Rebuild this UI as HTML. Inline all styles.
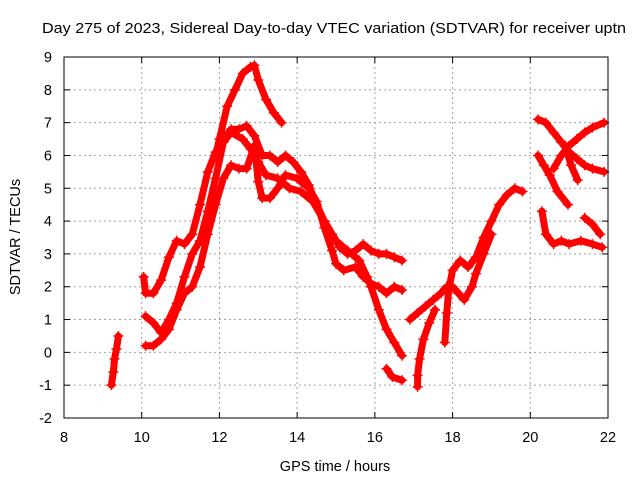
<!DOCTYPE html>
<html><head><meta charset="utf-8"><style>
body{margin:0;background:#fff}
svg{display:block;font-family:"Liberation Sans",sans-serif}
</style></head><body>
<svg id="chart" width="640" height="480" xmlns="http://www.w3.org/2000/svg">
<rect width="640" height="480" fill="#fff"/>
<text x="42" y="33" font-size="14.5" textLength="584" lengthAdjust="spacingAndGlyphs" fill="#000">Day 275 of 2023, Sidereal Day-to-day VTEC variation (SDTVAR) for receiver uptn</text>
<g id="grid"></g>
<g id="ticks"></g>
<g id="marks"></g>
<rect x="64" y="57" width="544" height="361" fill="none" stroke="#000" stroke-width="1"/>
<text transform="translate(20,237) rotate(-90)" text-anchor="middle" font-size="14.5">SDTVAR / TECUs</text>
<text x="335" y="471" text-anchor="middle" font-size="14.5">GPS time / hours</text>
</svg>
<script>
const xTicks=[8,10,12,14,16,18,20,22];
const yTicks=[-2,-1,0,1,2,3,4,5,6,7,8,9];
const traceA=[[9.22,-1.0],[9.27,-0.6],[9.3,-0.2],[9.35,0.1],[9.4,0.5]];
const traceB=[[10.05,2.3],[10.1,1.8],[10.3,1.8],[10.5,2.2],[10.7,2.9],[10.9,3.4],[11.1,3.3],[11.3,3.6],[11.5,4.5],[11.7,5.5],[11.9,6.1],[12.1,6.5],[12.3,6.8],[12.5,6.8],[12.7,6.9],[12.9,6.6],[13.1,6.0],[13.3,6.0],[13.5,5.8],[13.7,6.0],[13.9,5.8],[14.1,5.5],[14.3,5.1],[14.5,4.5],[14.7,4.0],[14.9,3.6],[15.1,3.2],[15.3,3.0],[15.5,3.1],[15.7,3.3],[15.9,3.1],[16.1,3.0],[16.3,3.0],[16.5,2.9],[16.7,2.8]];
const traceC=[[11.9,6.0],[12.0,6.5],[12.2,7.5],[12.4,8.0],[12.6,8.5],[12.8,8.7],[12.9,8.75],[13.0,8.3],[13.2,7.7],[13.4,7.3],[13.6,7.0]];
const traceD=[[10.1,0.2],[10.3,0.2],[10.5,0.4],[10.7,0.7],[10.9,1.3],[11.1,1.8],[11.3,2.0],[11.5,2.6],[11.7,3.6],[11.9,4.5],[12.1,5.3],[12.3,5.7],[12.5,5.6],[12.7,5.6],[12.9,6.3],[13.0,5.2],[13.1,4.7],[13.3,4.7],[13.5,5.0],[13.7,5.4],[14.0,5.3],[14.3,5.0],[14.5,4.6],[14.7,3.8],[14.9,3.1],[15.0,2.7],[15.2,2.5],[15.5,2.6],[15.7,2.3],[15.9,2.1],[16.1,2.0],[16.3,1.8],[16.5,2.0],[16.7,1.9]];
const traceE=[[10.1,1.1],[10.3,0.9],[10.5,0.6],[10.7,1.0],[10.9,1.5],[11.1,2.3],[11.3,3.0],[11.5,3.4],[11.7,4.3],[11.9,5.3],[12.1,6.4],[12.3,6.7],[12.6,6.5],[12.8,6.2],[13.0,5.8],[13.2,5.4],[13.5,5.3],[13.8,5.0],[14.1,4.9],[14.4,4.6],[14.7,4.0],[15.0,3.4],[15.3,3.1],[15.6,2.8],[15.8,2.3],[15.9,2.0],[16.1,1.3],[16.3,0.7],[16.5,0.3],[16.7,-0.1]];
const traceF=[[16.3,-0.5],[16.45,-0.75],[16.7,-0.85]];
const traceG=[[16.9,1.0],[17.1,1.2],[17.3,1.4],[17.5,1.6],[17.7,1.8],[17.85,2.0]];
const traceH=[[17.55,1.3],[17.4,0.9],[17.25,0.4],[17.15,-0.2],[17.1,-0.7],[17.1,-1.05]];
const traceI=[[17.8,0.3],[17.85,1.2],[17.9,1.9],[18.0,2.5],[18.2,2.8],[18.4,2.6],[18.6,2.9],[18.8,3.5],[19.0,4.0],[19.2,4.5],[19.4,4.8],[19.6,5.0],[19.8,4.9]];
const traceJ=[[18.0,2.0],[18.15,1.8],[18.3,1.6],[18.5,2.0],[18.6,2.4],[18.8,3.0],[19.0,3.6]];
const traceK=[[20.2,7.1],[20.4,7.0],[20.6,6.7],[20.8,6.4],[21.0,6.1],[21.2,5.9],[21.4,5.7],[21.6,5.6],[21.9,5.5]];
const traceL=[[20.6,5.6],[20.8,6.0],[21.0,6.3],[21.2,6.5],[21.4,6.7],[21.6,6.85],[21.9,7.0]];
const traceM=[[20.2,6.0],[20.35,5.7],[20.5,5.4],[20.7,4.9],[20.97,4.5]];
const traceN=[[20.9,6.3],[21.05,5.7],[21.22,5.25]];
const traceO=[[20.3,4.3],[20.4,3.6],[20.6,3.3],[20.8,3.4],[21.0,3.3],[21.3,3.4],[21.6,3.3],[21.85,3.2]];
const traceP=[[21.4,4.1],[21.6,3.9],[21.8,3.6]];
const traces=[traceA,traceB,traceC,traceD,traceE,traceF,traceG,traceH,traceI,traceJ,traceK,traceL,traceM,traceN,traceO,traceP];
const NS="http://www.w3.org/2000/svg";
const X=v=>64+(v-8)*544/14;
const Y=v=>418-(v+2)*361/11;
const grid=document.getElementById('grid'),ticks=document.getElementById('ticks'),marks=document.getElementById('marks');
function mk(t,a,p){const e=document.createElementNS(NS,t);for(const k in a)e.setAttribute(k,a[k]);p.appendChild(e);return e;}
xTicks.forEach(v=>{
 const x=X(v);
 if(v>8&&v<22){const g=mk('line',{x1:x,x2:x,y1:57,y2:418,stroke:'#a0a0a0','stroke-dasharray':'2,3'},grid);
 
 }
 mk('line',{x1:x,x2:x,y1:418,y2:412,stroke:'#000'},ticks);
 mk('line',{x1:x,x2:x,y1:57,y2:63,stroke:'#000'},ticks);
 const t=mk('text',{x:x,y:442,'text-anchor':'middle','font-size':'14.5'},ticks);t.textContent=v;
 
 
});
yTicks.forEach(v=>{
 const y=Y(v);
 if(v>-2&&v<9){const g=mk('line',{x1:64,x2:608,y1:y,y2:y,stroke:'#a0a0a0','stroke-dasharray':'2,3'},grid);
 
 }
 mk('line',{x1:64,x2:70,y1:y,y2:y,stroke:'#000'},ticks);
 mk('line',{x1:608,x2:602,y1:y,y2:y,stroke:'#000'},ticks);
 const t=mk('text',{x:52,y:y+5,'text-anchor':'end','font-size':'14.5'},ticks);t.textContent=v;
 
 
});
traces.forEach(tr=>{
 const pl=mk('polyline',{points:tr.map(p=>X(p[0])+','+Y(p[1])).join(' '),fill:'none',stroke:'#f00','stroke-width':7,'stroke-linejoin':'round','stroke-linecap':'round'},marks);
 
 
 tr.forEach(p=>{
  const x=X(p[0]),y=Y(p[1]);
  const m=mk('path',{d:`M${x-5},${y}H${x+5}M${x},${y-5}V${y+5}`,stroke:'#f00','stroke-width':1.5},marks);
  
  
 });
});
</script>
</body></html>
